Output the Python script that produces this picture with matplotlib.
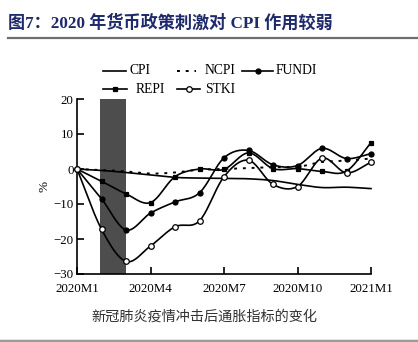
import numpy as np
import matplotlib
matplotlib.use("Agg")
import matplotlib.pyplot as plt
from matplotlib.lines import Line2D

# Months from 2020M1 (0) to 2021M1 (12)
months = list(range(13))
tick_pos = [0, 3, 6, 9, 12]
tick_labels = ["2020M1", "2020M4", "2020M7", "2020M10", "2021M1"]
y_ticks = [-30, -20, -10, 0, 10, 20]

cpi = [0, -0.4, -1.0, -1.7, -2.4, -2.6, -2.7, -2.8, -3.3, -4.4, -5.3, -5.2, -5.6]
ncpi = [0, -0.3, -0.7, -1.3, -1.0, -0.2, 0.0, 0.3, 0.5, 0.6, 2.0, 2.4, 3.0]
fundi = [0, -8.5, -17.4, -12.6, -9.4, -6.8, 3.2, 5.3, 1.2, 1.0, 5.9, 3.0, 4.4]
repi = [0, -3.5, -7.1, -9.6, -2.2, 0.0, -0.1, 4.6, 0.1, 0.1, -0.7, -0.6, 7.5]
stki = [0, -17.2, -26.4, -22.0, -16.5, -14.8, -2.2, 2.5, -4.4, -5.0, 3.1, -1.1, 1.9]

# shaded shock period (Feb-Mar 2020)
shade_start, shade_end = 0.95, 2.0

SERIF = ["Liberation Serif", "Noto Sans CJK SC"]
CJK = ["Noto Sans CJK SC", "DejaVu Sans"]


def smooth(x, y, n=20):
    """Catmull-Rom curve through the points for a smoothed line."""
    x = np.asarray(x, float)
    y = np.asarray(y, float)
    px = np.concatenate([[2 * x[0] - x[1]], x, [2 * x[-1] - x[-2]]])
    py = np.concatenate([[2 * y[0] - y[1]], y, [2 * y[-1] - y[-2]]])
    xs, ys = [], []
    t = np.linspace(0, 1, n, endpoint=False)
    for i in range(1, len(px) - 2):
        for arr, out in ((px, xs), (py, ys)):
            p0, p1, p2, p3 = arr[i - 1], arr[i], arr[i + 1], arr[i + 2]
            out.append(0.5 * ((2 * p1) + (-p0 + p2) * t
                              + (2 * p0 - 5 * p1 + 4 * p2 - p3) * t ** 2
                              + (-p0 + 3 * p1 - 3 * p2 + p3) * t ** 3))
    xs.append([x[-1]])
    ys.append([y[-1]])
    return np.concatenate(xs), np.concatenate(ys)


W, H = 418, 342
fig = plt.figure(figsize=(W / 100, H / 100), dpi=100)
fig.patch.set_facecolor("white")

ax = fig.add_axes([77 / W, 1 - 274 / H, 294 / W, 175 / H])

ax.axvspan(shade_start, shade_end, color="#4d4d4d", lw=0, zorder=1)

lw = 1.2
for data, style in [
    (cpi, dict(ls="-")),
    (ncpi, dict(ls=(0, (1.5, 3.0)), lw=1.4)),
    (repi, dict(marker="s", ms=3.2, mfc="black")),
    (fundi, dict(marker="o", ms=3.6, mfc="black")),
    (stki, dict(marker="o", ms=4.0, mfc="white")),
]:
    sx, sy = smooth(months, data)
    ax.plot(sx, sy, color="black", lw=style.get("lw", lw), ls=style.get("ls", "-"),
            zorder=3, clip_on=False)
    if "marker" in style:
        ax.plot(months, data, ls="none", marker=style["marker"], ms=style["ms"],
                mfc=style["mfc"], mec="black", mew=0.9, zorder=4, clip_on=False)

ax.set_xlim(0, 12)
ax.set_ylim(-30, 20)
ax.set_xticks(tick_pos)
ax.set_xticklabels(tick_labels)
ax.set_yticks(y_ticks)
ax.set_yticklabels([f"{v}".replace("-", "\u2212") for v in y_ticks])
for s in ["top", "right"]:
    ax.spines[s].set_visible(False)
for s in ["left", "bottom"]:
    ax.spines[s].set_linewidth(1.2)
ax.tick_params(direction="in", length=5, width=1.2, labelsize=9.3)
ax.tick_params(axis="y", pad=2.5)
ax.tick_params(axis="x", pad=6.5)
for lab in ax.get_xticklabels() + ax.get_yticklabels():
    lab.set_family(SERIF)

fig.text(44 / W, 1 - 186 / H, "%", rotation=90, ha="center", va="center",
         fontsize=9.5, family=SERIF)

# legend drawn in figure pixel space
def leg_item(x0, x1, y, label, tx, marker=None, mfc="black", ls="-", ms=3.6):
    fig.add_artist(Line2D([x0 / W, x1 / W], [1 - y / H, 1 - y / H], color="black",
                          lw=1.2 if ls == "-" else 1.4, ls=ls,
                          transform=fig.transFigure))
    if marker:
        xm = (x0 + x1) / 2
        fig.add_artist(Line2D([xm / W], [1 - y / H], marker=marker, ms=ms,
                              mfc=mfc, mec="black", mew=0.9, ls="none",
                              transform=fig.transFigure))
    fig.text(tx / W, 1 - y / H, label, ha="left", va="center", fontsize=9.8,
             family=SERIF)

leg_item(103, 126, 71, "CPI", 130)
leg_item(177, 196, 71, "NCPI", 205, ls=(0, (1.5, 3.0)))
leg_item(242, 273, 71, "FUNDI", 276, marker="o")
leg_item(103, 127, 89, "REPI", 136, marker="s", ms=3.2)
leg_item(177, 200, 89, "STKI", 205, marker="o", mfc="white", ms=4.0)

# title and rules
fig.text(8 / W, 1 - 23 / H, "图7：2020 年货币政策刺激对 CPI 作用较弱",
         ha="left", va="center", fontsize=12.3, fontweight="bold",
         color="#1f2a6b", family=SERIF)
fig.add_artist(Line2D([8 / W, 1], [1 - 38 / H, 1 - 38 / H], color="#6e6e6e",
                      lw=1.6, transform=fig.transFigure))
fig.add_artist(Line2D([0, 1], [1 - 341 / H, 1 - 341 / H], color="#9a9a9a",
                      lw=2.5, transform=fig.transFigure))

fig.text(204 / W, 1 - 317 / H, "新冠肺炎疫情冲击后通胀指标的变化",
         ha="center", va="center", fontsize=10.2, color="#333333", family=CJK)

fig.savefig("out.png", dpi=100, facecolor="white")
